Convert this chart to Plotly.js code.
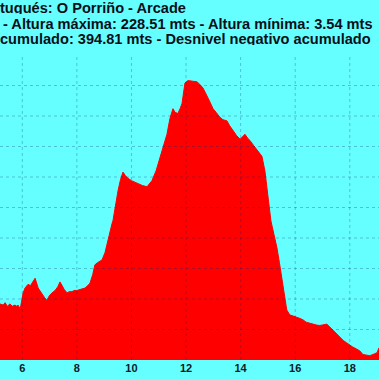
<!DOCTYPE html>
<html>
<head>
<meta charset="utf-8">
<script src="https://cdn.plot.ly/plotly-3.0.1.min.js"></script>
<style>html,body{margin:0;padding:0;background:#66ffff;}#chart{width:379px;height:379px;}</style>
</head>
<body>
<div id="chart"></div>
<script>
// distance (km) and elevation (m)
const distanceKm = [5.18,5.30,5.37,5.45,5.55,5.63,5.73,5.80,5.84,5.92,5.95,6.03,6.10,6.21,6.30,6.39,6.47,6.58,6.72,6.82,6.90,7.00,7.09,7.20,7.30,7.38,7.46,7.53,7.64,7.72,7.82,7.90,8.00,8.15,8.30,8.40,8.48,8.58,8.66,8.77,8.92,9.03,9.14,9.29,9.32,9.40,9.51,9.60,9.69,9.78,9.87,10.00,10.20,10.40,10.57,10.75,10.90,11.04,11.18,11.30,11.41,11.52,11.60,11.70,11.78,11.85,11.96,12.07,12.25,12.40,12.50,12.62,12.80,12.99,13.10,13.24,13.35,13.50,13.60,13.72,13.85,13.98,14.08,14.16,14.25,14.34,14.47,14.60,14.70,14.78,14.89,15.00,15.11,15.22,15.33,15.42,15.51,15.60,15.69,15.80,15.90,16.06,16.18,16.28,16.40,16.54,16.66,16.79,16.90,17.01,17.10,17.16,17.27,17.38,17.50,17.64,17.76,17.89,18.00,18.11,18.25,18.37,18.48,18.60,18.73,18.85,18.92,19.00,19.07];
const elevationM = [46,45,47,44,46,44,45,44,45,42,45,55,59,62,61,64,67,59,54,51,49,53,55,57,60,64,61,58,55,56,56,57,57,58,59,61,63,70,78,80,82,88,99,112,114,125,139,148,154,151,149,147,145,143,142,147,155,166,176,185,198,206,203,202,206,210,227,229,228.5,228,226,223,215,206,203,199,197,196,192,188,184,181,183,185,182,180,176,172,169,167,155,136,114,103,92,80,68,54,41,37,36,35,34,33,31,30,29,28.6,28.3,28.6,29.4,29.4,27,24.5,22,19,16,14,12,10.6,9,7.4,4.5,4,3.54,4.5,5,6,10];

const xTicks = [6,8,10,12,14,16,18];
const yGrid = [25,50,75,100,125,150,175,200,225];

const titleLine1 = "tugués: O Porriño - Arcade";
const titleLine2 = "- Altura máxima: 228.51 mts - Altura mínima: 3.54 mts";
const titleLine3 = "cumulado: 394.81 mts - Desnivel negativo acumulado";

const gridStyle = {color: 'rgba(0,40,110,0.28)', width: 1, dash: 'dot'};
const shapes = [];
xTicks.forEach(v => shapes.push({type:'line', xref:'x', yref:'paper', x0:v, x1:v, y0:0, y1:1, layer:'above', line:gridStyle}));
yGrid.forEach(v => shapes.push({type:'line', xref:'paper', yref:'y', x0:0, x1:1, y0:v, y1:v, layer:'above', line:gridStyle}));

const titleFont = {family:'"Liberation Sans", Arial, sans-serif', size:14.6, color:'#0a0f1a', weight:'bold'};
const trace = {
  x: distanceKm, y: elevationM, type:'scatter', mode:'lines',
  fill:'tozeroy', fillcolor:'#ff0000', line:{color:'#ff0000', width:1, shape:'linear'},
  hoverinfo:'skip'
};
function titleAnn(text, py, shift) {
  return {text:text, xref:'paper', yref:'paper', x:0, y:(360 - py) / 305, xanchor:'left', yanchor:'middle',
    height:12, valign:'middle', showarrow:false, font:titleFont, xshift:shift, borderpad:0};
}
const layout = {
  width:379, height:379,
  margin:{l:0, r:0, t:55, b:19, pad:0},
  paper_bgcolor:'#66ffff', plot_bgcolor:'#66ffff',
  showlegend:false,
  xaxis:{range:[5.183,19.07], tickvals:xTicks, ticktext:xTicks.map(String), showgrid:false, zeroline:false, showline:false, ticks:'',
    tickfont:{family:'"Liberation Sans", Arial, sans-serif', size:11, color:'#0a1a2a', weight:'bold'}},
  yaxis:{range:[0,250], showgrid:false, zeroline:false, showticklabels:false, ticks:'', showline:false},
  shapes: shapes,
  annotations:[
    titleAnn(titleLine1, 8, -1),
    titleAnn(titleLine2, 24, 2),
    titleAnn(titleLine3, 38.5, -1)
  ]
};
Plotly.newPlot('chart', [trace], layout, {staticPlot:true, displayModeBar:false});
</script>
</body>
</html>
